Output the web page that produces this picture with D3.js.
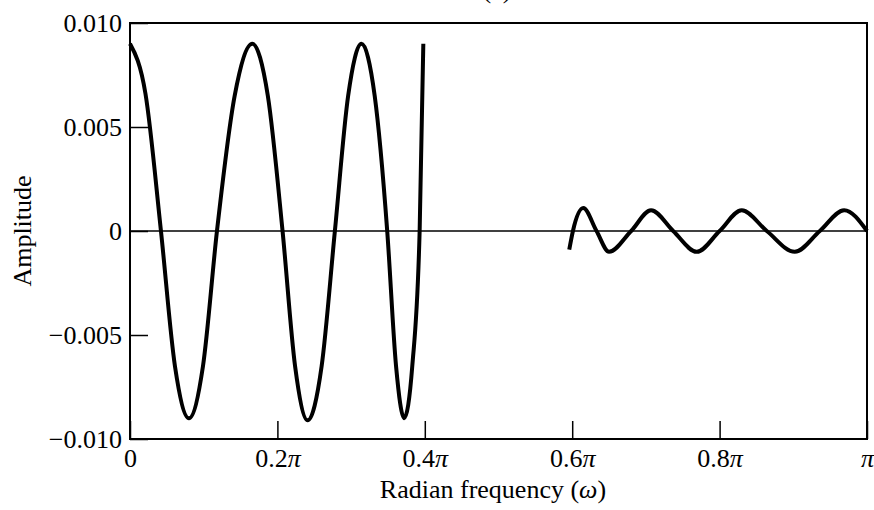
<!DOCTYPE html>
<html>
<head>
<meta charset="utf-8">
<script src="https://cdn.jsdelivr.net/npm/d3@7"></script>
<style>
  body { margin: 0; background: #fff; }
  svg { display: block; font-family: "Liberation Serif", "DejaVu Serif", serif; }
  .axis path { display: none; }
  .axis line { stroke: #000; stroke-width: 1.5; }
  .axis text { fill: #000; font-size: 26px; font-family: "Liberation Serif", serif; }
</style>
</head>
<body>
<svg id="chart"></svg>
<script>
// frequency in units of pi, amplitude of the error
const passW = [0, 0.021, 0.042, 0.061, 0.080, 0.099, 0.118, 0.142, 0.166, 0.187, 0.207, 0.224,
  0.241, 0.260, 0.278, 0.296, 0.314, 0.332, 0.349, 0.361, 0.372, 0.383, 0.393, 0.398];
const passA = [0.0090, 0.0066, 0, -0.0065, -0.0090, -0.0065, 0, 0.0065, 0.0090, 0.0065, 0, -0.0065,
  -0.0091, -0.0065, 0, 0.0065, 0.0090, 0.0065, 0, -0.0065, -0.0090, -0.0065, 0, 0.0090];

const stopW = [0.596, 0.601, 0.615, 0.633, 0.650, 0.680, 0.707, 0.737, 0.769, 0.800, 0.830,
  0.864, 0.902, 0.936, 0.969, 1.000];
const stopA = [-0.0009, 0, 0.0011, 0, -0.0010, 0, 0.0010, 0, -0.0010, 0, 0.0010,
  0, -0.0010, 0, 0.0010, 0];

const xTicks = [0, 0.2, 0.4, 0.6, 0.8, 1];
const xTickNums = ["0", "0.2", "0.4", "0.6", "0.8", ""];
const yTicks = [-0.01, -0.005, 0, 0.005, 0.01];
const yTickLabels = ["\u22120.010", "\u22120.005", "0", "0.005", "0.010"];

const W = 874, H = 510;
const margin = { top: 23, right: 7, bottom: 71, left: 130 };
const width = W - margin.left - margin.right;
const height = H - margin.top - margin.bottom;

const svg = d3.select("#chart").attr("width", W).attr("height", H);
const chart = svg.append("g").attr("transform", `translate(${margin.left},${margin.top})`);

const x = d3.scaleLinear().domain([0, 1]).range([0, width]);
const y = d3.scaleLinear().domain([-0.01, 0.01]).range([height, 0]);

// zero line
chart.append("line")
  .attr("x1", 0).attr("x2", width)
  .attr("y1", y(0)).attr("y2", y(0))
  .attr("stroke", "#000").attr("stroke-width", 1.5);

// axes with inward ticks
const xAxis = d3.axisBottom(x).tickValues(xTicks).tickSize(-18).tickPadding(10)
  .tickFormat((d, i) => xTickNums[i]);
const xG = chart.append("g").attr("class", "axis")
  .attr("transform", `translate(0,${height})`).call(xAxis);
xG.attr("font-family", null).attr("font-size", null);
xG.selectAll("text").attr("dy", "0.68em").each(function(d, i) {
  if (i === 0) return;
  d3.select(this).append("tspan").style("font-style", "italic").text("\u03c0");
});

const yAxis = d3.axisLeft(y).tickValues(yTicks).tickSize(-18).tickPadding(8)
  .tickFormat((d, i) => yTickLabels[i]);
const yG = chart.append("g").attr("class", "axis").call(yAxis);
yG.attr("font-family", null).attr("font-size", null);

// frame
chart.append("rect")
  .attr("width", width).attr("height", height)
  .attr("fill", "none").attr("stroke", "#000").attr("stroke-width", 2);

const line = d3.line()
  .x(d => x(d[0]))
  .y(d => y(d[1]))
  .curve(d3.curveMonotoneX);

const passData = passW.map((w, i) => [w, passA[i]]);
const stopData = stopW.map((w, i) => [w, stopA[i]]);

[passData, stopData].forEach(data => {
  chart.append("path")
    .datum(data)
    .attr("fill", "none")
    .attr("stroke", "#000")
    .attr("stroke-width", 4)
    .attr("stroke-linejoin", "round")
    .attr("d", line);
});

// labels
const xl = svg.append("text")
  .attr("x", 493).attr("y", 498)
  .attr("text-anchor", "middle")
  .style("font-size", "26px");
xl.append("tspan").text("Radian frequency (");
xl.append("tspan").style("font-style", "italic").text("\u03c9");
xl.append("tspan").text(")");

svg.append("text")
  .attr("transform", "translate(31,231) rotate(-90)")
  .attr("text-anchor", "middle")
  .style("font-size", "26px")
  .text("Amplitude");

// panel caption, mostly cut off at the top
svg.append("text")
  .attr("x", 497).attr("y", -2)
  .attr("text-anchor", "middle")
  .style("font-size", "26px")
  .text("(a)");
</script>
</body>
</html>
